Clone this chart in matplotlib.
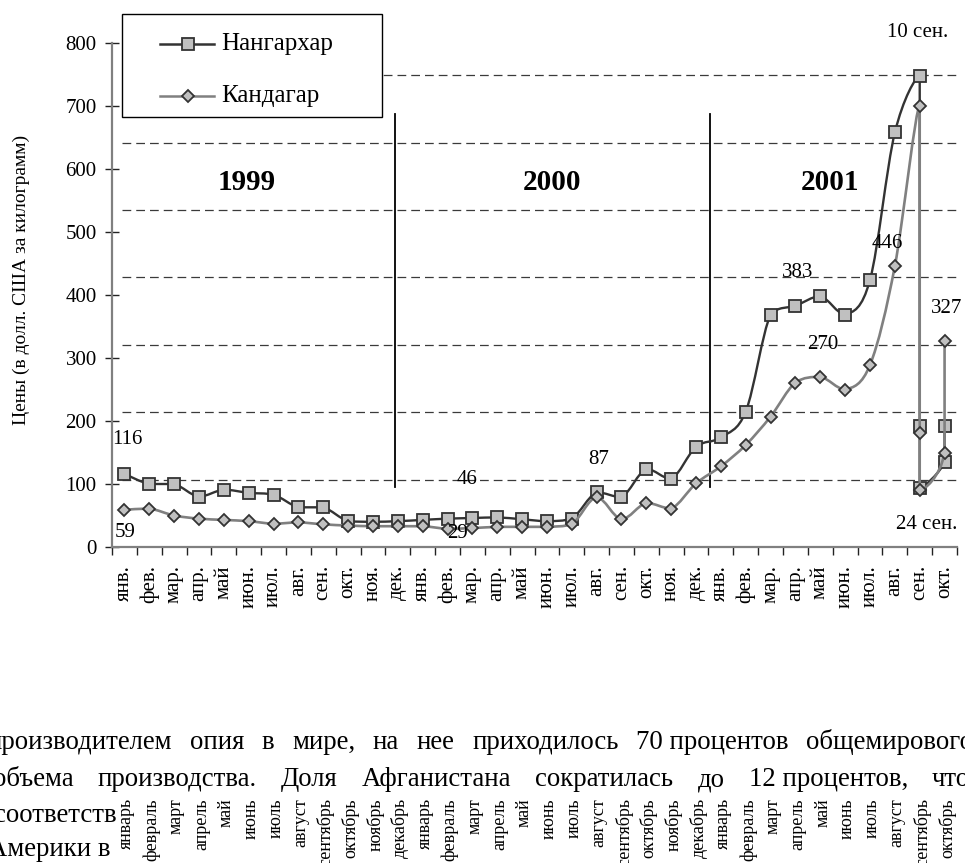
import matplotlib
matplotlib.use('Agg')
import matplotlib.pyplot as plt
import matplotlib.transforms as mtransforms
from matplotlib.path import Path
from matplotlib.patches import PathPatch, Rectangle
from matplotlib.lines import Line2D
import numpy as np

plt.rcParams['font.family'] = ['Liberation Serif', 'DejaVu Serif']

W, H = 965, 863

# ---- data ----
months = ['янв.', 'фев.', 'мар.', 'апр.', 'май', 'июн.', 'июл.', 'авг.',
          'сен.', 'окт.', 'ноя.', 'дек.']
tick_labels = months * 2 + months[:10]
months_full = ['январь', 'февраль', 'март', 'апрель', 'май', 'июнь', 'июль',
               'август', 'сентябрь', 'октябрь', 'ноябрь', 'декабрь']
lower_labels = months_full * 2 + months_full[:10]

# september 2001 has three readings (10 сен. ... 24 сен.), october two
x_pos = list(range(32)) + [32, 32, 32, 33, 33]
nangarhar = [116, 100, 100, 80, 91, 86, 83, 63, 63, 41, 40, 41,
             43, 45, 46, 47, 44, 41, 45, 87, 79, 124, 108, 159,
             174, 215, 369, 383, 398, 369, 424, 658,
             747, 192, 94, 135, 192]
kandahar = [59, 61, 50, 45, 43, 41, 37, 39, 36, 34, 33, 33,
            33, 29, 30, 32, 32, 32, 36, 79, 44, 70, 61, 101,
            128, 162, 207, 261, 270, 250, 289, 446,
            700, 181, 90, 150, 327]

years = ['1999', '2000', '2001']
year_x = [4.9, 17.2, 28.4]
year_sep = [10.9, 23.55]
grid_vals = [107, 214, 321, 428, 535, 642, 749]

# value labels: (text, x, y, alignment)
point_labels = [('116', -0.5, 171, 'left'), ('59', -0.4, 23, 'left'),
                ('46', 13.8, 107, 'center'), ('29', 13.4, 22, 'center'),
                ('87', 19.1, 139, 'center'), ('383', 27.1, 435, 'center'),
                ('270', 28.1, 322, 'center'), ('446', 30.7, 481, 'center'),
                ('327', 33.1, 378, 'center'), ('10 сен.', 31.9, 817, 'center'),
                ('24 сен.', 32.3, 36, 'center')]

text_lines = [
    ['производителем', 'опия', 'в', 'мире,', 'на', 'нее', 'приходилось',
     '70 процентов', 'общемирового'],
    ['объема', 'производства.', 'Доля', 'Афганистана', 'сократилась', 'до',
     '12 процентов,', 'что'],
]
text_tail = ['соответств', 'Америки в']


def smooth_path(xs, ys):
    # excel-like smoothed line, control points kept inside each segment's box
    p = np.column_stack([xs, ys]).astype(float)
    ext = np.vstack([p[0], p, p[-1]])
    verts = [p[0]]
    codes = [Path.MOVETO]
    for i in range(len(p) - 1):
        p0, p1, p2, p3 = ext[i], ext[i + 1], ext[i + 2], ext[i + 3]
        lo, hi = np.minimum(p1, p2), np.maximum(p1, p2)
        c1 = np.clip(p1 + (p2 - p0) / 6, lo, hi)
        c2 = np.clip(p2 - (p3 - p1) / 6, lo, hi)
        verts += [c1, c2, p2]
        codes += [Path.CURVE4] * 3
    return Path(verts, codes)


fig = plt.figure(figsize=(W / 100, H / 100), dpi=100)
ax = fig.add_axes([112 / W, 1 - 547 / H, 845 / W, 504 / H])
ax.set_xlim(-0.5, 33.5)
ax.set_ylim(0, 800)

for v in grid_vals:
    ax.axhline(v, xmin=0.012, color='#3a3a3a', lw=0.9, ls=(0, (7, 4)), zorder=1)
for xv in year_sep:
    ax.plot([xv, xv], [95, 688], color='black', lw=1.3, zorder=2)

ax.add_patch(PathPatch(smooth_path(x_pos, nangarhar), fill=False,
                       edgecolor='#333333', lw=1.7, zorder=3))
ax.plot(x_pos, nangarhar, ls='none', marker='s', ms=9, mfc='#c0c0c0',
        mec='#333333', mew=1.3, zorder=4)
ax.add_patch(PathPatch(smooth_path(x_pos, kandahar), fill=False,
                       edgecolor='#808080', lw=1.9, zorder=5))
ax.plot(x_pos, kandahar, ls='none', marker='D', ms=6.5, mfc='#c0c0c0',
        mec='#333333', mew=1.3, zorder=6)

for txt, xv, yv, ha in point_labels:
    ax.text(xv, yv, txt, fontsize=15, ha=ha, va='center', zorder=7)
for y, xv in zip(years, year_x):
    ax.text(xv, 579, y, fontsize=21, fontweight='bold', ha='center', va='center')

ax.set_xticks(range(len(tick_labels)))
ax.set_xticklabels(tick_labels, rotation=90, fontsize=15)
ax.set_xticks(np.arange(-0.5, 34, 1), minor=True)
ax.tick_params(axis='x', which='major', length=0, pad=13)
ax.tick_params(axis='x', which='minor', direction='out', length=6,
               color='#222222', width=1)
ax.set_yticks(range(0, 801, 100))
ax.tick_params(axis='y', direction='inout', length=10, width=1,
               color='#222222', labelsize=15, pad=6)
ax.set_ylabel('Цены (в долл. США за килограмм)', fontsize=14)
ax.yaxis.set_label_coords(-0.097, 0.53)
for s in ['top', 'right']:
    ax.spines[s].set_visible(False)
for s in ['left', 'bottom']:
    ax.spines[s].set_color('#808080')
    ax.spines[s].set_linewidth(1.6)

# legend box
fx = lambda px: px / W
fy = lambda py: 1 - py / H
fig.add_artist(Rectangle((fx(122), fy(117)), fx(382) - fx(122), fy(14) - fy(117),
                         transform=fig.transFigure, facecolor='white',
                         edgecolor='black', lw=1, zorder=10))
for row_y, name, col, mk, ms in [(44, 'Нангархар', '#333333', 's', 9),
                                 (96, 'Кандагар', '#808080', 'D', 6.5)]:
    fig.add_artist(Line2D([fx(160), fx(214)], [fy(row_y)] * 2, color=col, lw=1.8,
                          transform=fig.transFigure, zorder=11))
    fig.add_artist(Line2D([fx(188)], [fy(row_y)], marker=mk, ms=ms, mfc='#c0c0c0',
                          mec='#333333', mew=1.3, transform=fig.transFigure, zorder=12))
    fig.text(fx(221), fy(row_y), name, fontsize=18, va='center', zorder=12)

# overlapping page text below the chart (justified lines)
renderer = fig.canvas.get_renderer()
line_y = [749, 786]
spans = [(-12, 973), (-7, 970)]
for words, yb, (x0, x1) in zip(text_lines, line_y, spans):
    objs = [fig.text(0, fy(yb), w, fontsize=19.3, va='baseline') for w in words]
    widths = [o.get_window_extent(renderer).width for o in objs]
    gap = (x1 - x0 - sum(widths)) / (len(words) - 1)
    xc = x0
    for o, wd in zip(objs, widths):
        o.set_x(fx(xc))
        xc += wd + gap
for txt, yb, x0 in zip(text_tail, [822, 856], [-6, -12]):
    fig.text(fx(x0), fy(yb), txt, fontsize=19.3, va='baseline')

blend = mtransforms.blended_transform_factory(ax.transData, fig.transFigure)
for i, lab in enumerate(lower_labels):
    fig.text(i + 0.1, fy(798), lab, transform=blend, rotation=90, fontsize=13,
             ha='center', va='top', zorder=5)

fig.savefig('out.png', dpi=100)
